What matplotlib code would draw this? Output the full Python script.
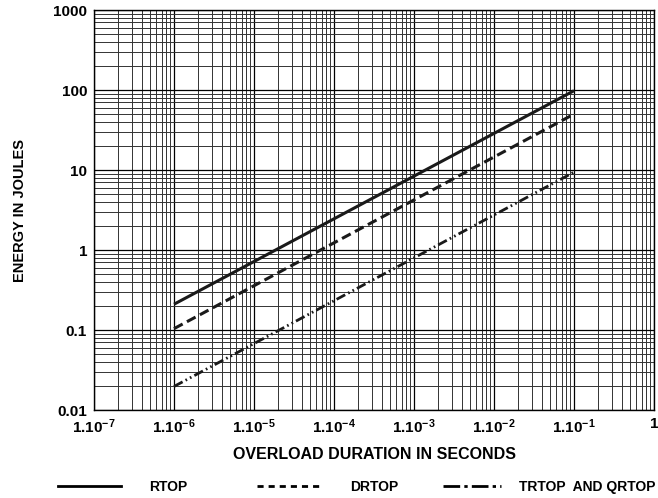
import matplotlib
matplotlib.use('Agg')
import matplotlib.pyplot as plt
from matplotlib.lines import Line2D
from matplotlib.ticker import LogLocator, NullFormatter

plt.rcParams['font.family'] = ['Liberation Sans', 'DejaVu Sans']
plt.rcParams['font.weight'] = 'bold'
plt.rcParams['mathtext.fontset'] = 'custom'
plt.rcParams['mathtext.rm'] = 'Liberation Sans:bold'
plt.rcParams['mathtext.bf'] = 'Liberation Sans:bold'

# data (end points of each straight log-log line)
duration = [1e-6, 1e-1]
rtop = [0.21, 98]
drtop = [0.104, 50]
trtop = [0.0197, 9.4]

xticks = [1e-7, 1e-6, 1e-5, 1e-4, 1e-3, 1e-2, 1e-1, 1]
xlabels = [r'$\mathbf{1.10^{-7}}$', r'$\mathbf{1.10^{-6}}$', r'$\mathbf{1.10^{-5}}$',
           r'$\mathbf{1.10^{-4}}$', r'$\mathbf{1.10^{-3}}$', r'$\mathbf{1.10^{-2}}$',
           r'$\mathbf{1.10^{-1}}$', '1']
yticks = [0.01, 0.1, 1, 10, 100, 1000]
ylabels = ['0.01', '0.1', '1', '10', '100', '1000']

fig = plt.figure(figsize=(6.58, 4.98), dpi=100)
ax = fig.add_axes([0.1429, 0.1767, 0.851, 0.8032])

ax.plot(duration, rtop, color='#1a1a1a', lw=2.2, solid_capstyle='butt')
ax.plot(duration, drtop, color='#1a1a1a', lw=2.2, dashes=(3.2, 1.6))
ax.plot(duration, trtop, color='#1a1a1a', lw=2.0, dashes=(3.5, 1.2, 0.6, 1.2, 0.6, 1.2))

ax.set_xscale('log')
ax.set_yscale('log')
ax.set_xlim(1e-7, 1)
ax.set_ylim(0.01, 1000)

ax.set_xticks(xticks)
ax.set_xticklabels(xlabels)
ax.set_yticks(yticks)
ax.set_yticklabels(ylabels)
ax.xaxis.set_minor_locator(LogLocator(base=10, subs=range(2, 10), numticks=20))
ax.yaxis.set_minor_locator(LogLocator(base=10, subs=range(2, 10), numticks=20))
ax.xaxis.set_minor_formatter(NullFormatter())
ax.yaxis.set_minor_formatter(NullFormatter())
ax.tick_params(which='both', length=0, labelsize=11, pad=5)
ax.grid(which='major', color='black', lw=0.9)
ax.grid(which='minor', color='#333333', lw=0.7)
for s in ax.spines.values():
    s.set_linewidth(1.0)

ax.set_xlabel('OVERLOAD DURATION IN SECONDS', fontsize=11.5, fontweight='bold', labelpad=8)
ax.set_ylabel('ENERGY IN JOULES', fontsize=10.5, fontweight='bold', labelpad=19)

# legend: three entries laid out along the bottom like the reference
entries = [
    ('RTOP', Line2D([], [], color='black', lw=2), 0.0684, 4.6, 2.0),
    ('DRTOP', Line2D([], [], color='black', lw=2, dashes=(2.2, 1.8)), 0.3723, 4.6, 2.1),
    ('TRTOP  AND QRTOP', Line2D([], [], color='black', lw=2, dashes=(6, 1.5, 1.2, 1.5)), 0.6535, 4.2, 1.3),
]
for name, h, xa, hl, tp in entries:
    fig.legend([h], [name], frameon=False, loc='center left',
               bbox_to_anchor=(xa, 0.022), fontsize=10,
               handlelength=hl, handletextpad=tp)

fig.savefig('out.png', dpi=100)
